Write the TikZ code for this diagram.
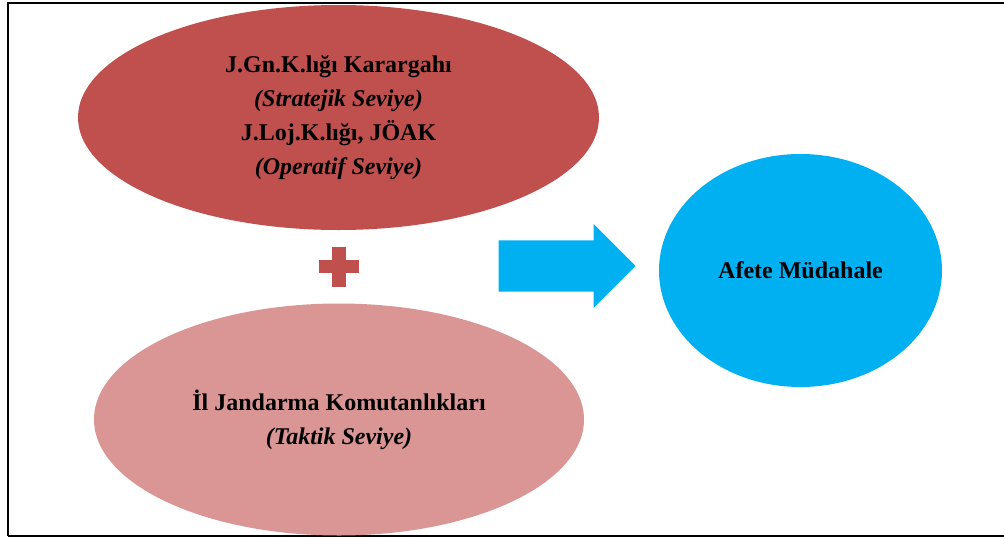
\documentclass[tikz,border=0pt]{standalone}
\usepackage{fontspec}
\setmainfont{Liberation Serif}
\usetikzlibrary{shapes.geometric,shapes.arrows}
\definecolor{darkred}{HTML}{C0504D}
\definecolor{lightred}{HTML}{D99694}
\definecolor{skyblue}{HTML}{00B0F0}
\tikzset{
  level/.style={ellipse,inner sep=0pt,align=center,font=\fontsize{24}{34}\selectfont\bfseries},
}

\begin{document}
\begin{tikzpicture}[x=1pt,y=-1pt]
        \useasboundingbox (0,0) rectangle (1004,538);
        \draw[line width=2pt] (7.5,536) -- (7.5,3) -- (1004,3);
        \draw[line width=1.2pt] (7.5,536) -- (1004,536);

        \node (upper) [level,fill=darkred,minimum width=521pt,minimum height=225pt] at (338.5,117.5)
            {J.Gn.K.lığı Karargahı\\\textit{(Stratejik Seviye)}\\J.Loj.K.lığı, JÖAK\\\textit{(Operatif Seviye)}};
        \node (lower) [level,fill=lightred,minimum width=490pt,minimum height=232pt] at (339,419.5)
            {İl Jandarma Komutanlıkları\\\textit{(Taktik Seviye)}};
        \node (response) [level,fill=skyblue,minimum width=283pt,minimum height=233pt] at (800.5,270.5)
            {Afete Müdahale};

        \fill[darkred] (319,260) rectangle (359,273);
        \fill[darkred] (332,247) rectangle (346,287);

        \node (flow) [single arrow,fill=skyblue,inner xsep=0pt,inner ysep=25.5pt,minimum height=137pt,
            single arrow head extend=16.5pt,single arrow tip angle=90,anchor=tip] at (636,266) {};
\end{tikzpicture}
\end{document}
